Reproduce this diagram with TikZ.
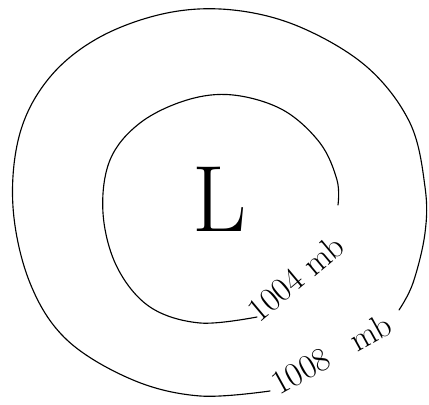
\documentclass[tikz,border=0pt]{standalone}
\usepackage{tikz}

\begin{document}
\begin{tikzpicture}[x=0.025cm, y=0.025cm,
    isobar/.style={line width=0.8pt, line join=round, line cap=round},
    mbtext/.style={inner sep=0pt, font=\fontsize{24}{24}\selectfont}]
    \useasboundingbox (0,0) rectangle (429,405);

    \node[inner sep=0pt, font=\fontsize{67}{67}\selectfont, anchor=base] (low) at (220,173) {L};
    \node[mbtext, anchor=base west, rotate=40] (p1004) at (259,81) {1004 mb};
    \node[mbtext, anchor=base west, rotate=29] (p1008) at (279,9) {1008\,\,\, mb};

    % inner isobar
    \draw[isobar] plot[smooth, tension=0.6] coordinates {(257,88) (200,82) (150,98) (117,138)
        (103,192) (110,245) (140,282) (187,305) (233,310) (283,295) (320,262) (337,225) (338,200)};

    % outer isobar
    \draw[isobar] plot[smooth, tension=0.6] coordinates {(270,14) (200,9) (133,25) (67,65)
        (30,122) (13,198) (20,272) (50,328) (100,368) (167,392) (233,395) (300,378) (367,338)
        (410,282) (425,218) (425,172) (413,122) (399,95)};
\end{tikzpicture}
\end{document}
